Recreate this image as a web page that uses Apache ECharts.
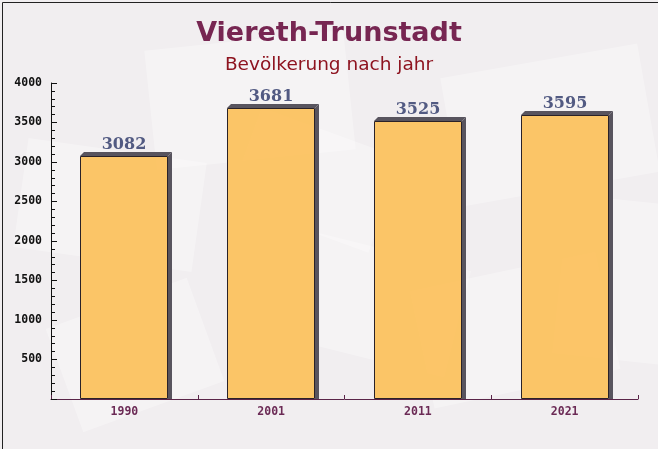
<!DOCTYPE html>
<html>
<head>
<meta charset="utf-8">
<script src="https://cdn.jsdelivr.net/npm/echarts@6/dist/echarts.min.js"></script>
<style>
html,body{margin:0;padding:0;background:#f3f1f2;}
#chart{width:658px;height:449px;}
</style>
</head>
<body>
<div id="chart"></div>
<script>
const categories = ['1990', '2001', '2011', '2021'];
const population = [3082, 3681, 3525, 3595];
const yTicks = [0, 500, 1000, 1500, 2000, 2500, 3000, 3500, 4000];

const chart = echarts.init(document.getElementById('chart'));
const DEPTH = 4;

// faint decorative background sheets
const sheets = [
  [20, 150, 180, 110, -8], [150, 40, 200, 120, 6], [300, 250, 160, 110, -14],
  [450, 60, 200, 130, 10], [420, 270, 190, 120, 12], [560, 200, 120, 160, -6],
  [60, 300, 150, 110, 20], [240, 130, 150, 100, -20]
];
const bgGraphics = sheets.map(s => ({
  type: 'rect', silent: true, z: -10,
  x: s[0] + s[2] / 2, y: s[1] + s[3] / 2, rotation: s[4] * Math.PI / 180,
  shape: { x: -s[2] / 2, y: -s[3] / 2, width: s[2], height: s[3] },
  style: { fill: 'rgba(255,255,255,0.3)' }
}));

chart.setOption({
  backgroundColor: '#f1eef0',
  animation: false,
  title: [
    { text: 'Viereth-Trunstadt', left: 'center', top: 15,
      textStyle: { fontFamily: 'DejaVu Sans', fontWeight: 'bold', fontSize: 27, color: '#772652' } },
    { text: 'Bevölkerung nach jahr', left: 'center', top: 51,
      textStyle: { fontFamily: 'DejaVu Sans', fontWeight: 'normal', fontSize: 18.5, color: '#8e1420' } }
  ],
  graphic: bgGraphics.concat([{
    type: 'rect', left: 0, top: 0, silent: true, z: 100,
    shape: { x: 0.5, y: 0.5, width: 657, height: 448 },
    style: { fill: 'none', stroke: '#222', lineWidth: 1 }
  }]),
  grid: { left: 51, right: 20, top: 83, bottom: 50 },
  xAxis: {
    type: 'category',
    data: categories,
    axisLine: { lineStyle: { color: '#5a2448', width: 1 } },
    axisTick: { show: true, inside: true, length: 4, alignWithLabel: false, lineStyle: { color: '#5a2448' } },
    axisLabel: { color: '#6b2a55', fontFamily: 'DejaVu Sans Mono', fontWeight: 'bold', fontSize: 11.5, margin: 7 },
    splitLine: { show: false }
  },
  yAxis: {
    type: 'value',
    min: yTicks[0],
    max: yTicks[yTicks.length - 1],
    interval: 500,
    axisLine: { show: true, lineStyle: { color: '#111', width: 1 } },
    axisTick: { show: true, inside: true, length: 6, lineStyle: { color: '#111' } },
    minorTick: { show: true, splitNumber: 5, length: 4, lineStyle: { color: '#111' } },
    axisLabel: {
      color: '#111', fontFamily: 'DejaVu Sans Mono', fontWeight: 'bold', fontSize: 11.5, margin: 9,
      formatter: v => (v === 0 ? '' : String(v))
    },
    splitLine: { show: false }
  },
  series: [{
    type: 'custom',
    data: population.map((v, i) => [i, v]),
    encode: { x: 0, y: 1 },
    renderItem: function (params, api) {
      const idx = api.value(0);
      const val = api.value(1);
      const top = api.coord([idx, val]);
      const base = api.coord([idx, 0]);
      const w = api.size([1, 0])[0] * 0.6;
      const x0 = Math.round(top[0] - w / 2);
      const x1 = Math.round(top[0] + w / 2);
      const yt = Math.round(top[1]);
      const yb = Math.round(base[1]);
      return {
        type: 'group',
        children: [
          { type: 'polygon',
            shape: { points: [[x0, yt], [x0 + DEPTH, yt - DEPTH], [x1 + DEPTH, yt - DEPTH], [x1, yt]] },
            style: { fill: '#58545e' } },
          { type: 'polygon',
            shape: { points: [[x1, yt], [x1 + DEPTH, yt - DEPTH], [x1 + DEPTH, yb], [x1, yb]] },
            style: { fill: '#58545e' } },
          { type: 'rect',
            shape: { x: x0 + 0.5, y: yt + 0.5, width: x1 - x0 - 1, height: yb - yt - 1 },
            style: { fill: 'rgba(252,192,88,0.9)', stroke: '#2a2228', lineWidth: 1 } },
          { type: 'text',
            style: { text: String(val), x: (x0 + x1) / 2, y: yt - 3,
              textAlign: 'center', textVerticalAlign: 'bottom',
              fill: '#525a82', fontFamily: 'DejaVu Serif', fontWeight: 'bold', fontSize: 16 } }
        ]
      };
    }
  }]
});
</script>
</body>
</html>
